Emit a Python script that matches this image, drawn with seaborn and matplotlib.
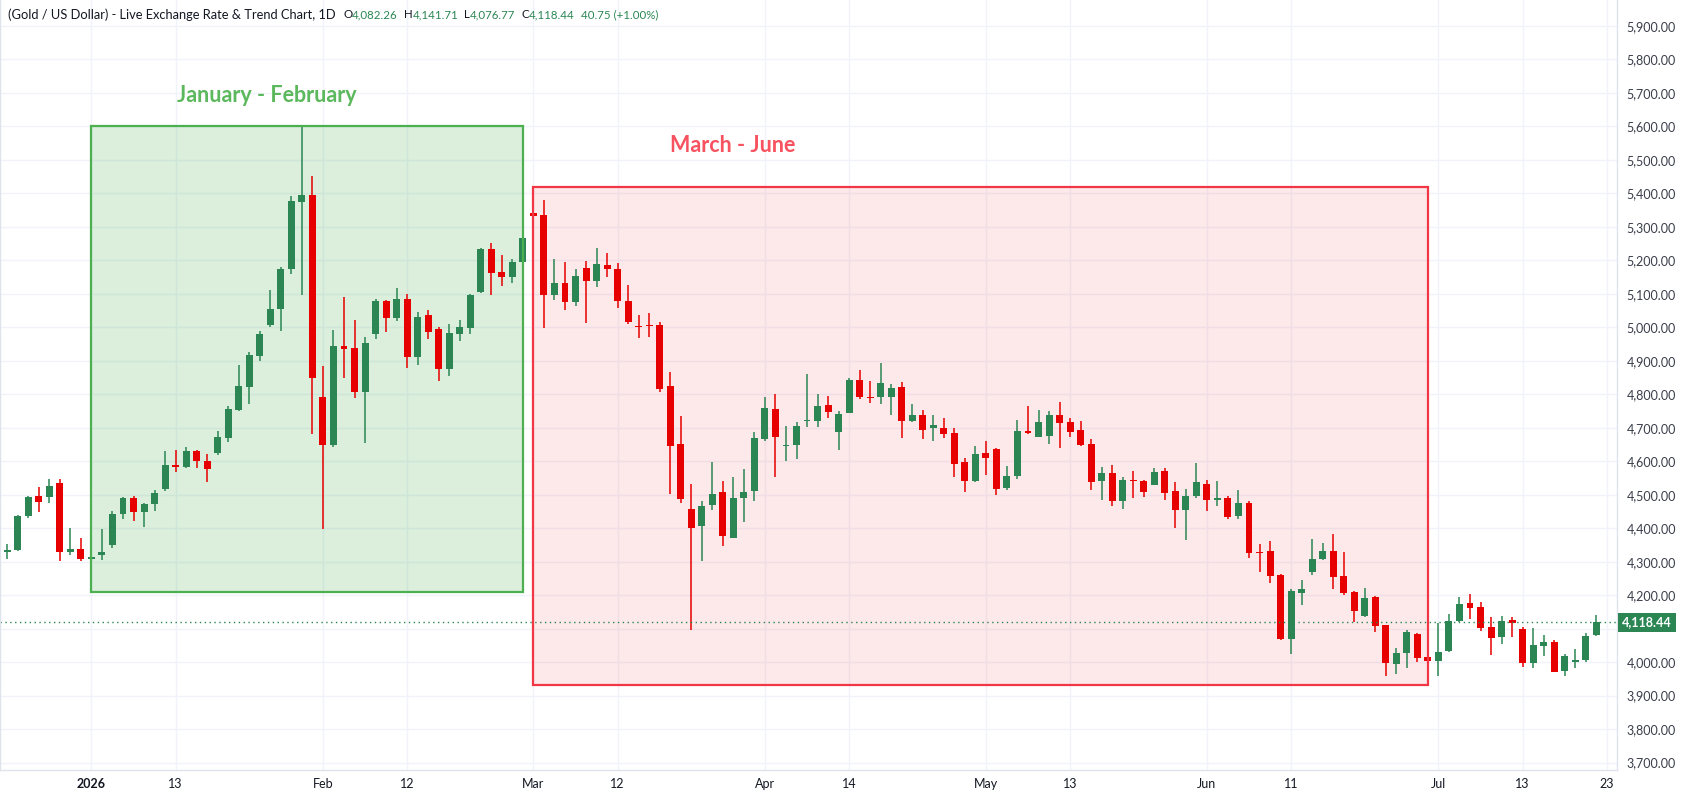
import matplotlib
matplotlib.use("Agg")
import matplotlib.pyplot as plt
import matplotlib.patches as patches
import matplotlib.transforms as mtransforms
import pandas as pd
import seaborn as sns

# daily OHLC (22 Dec 2025 .. 22 Jul 2026)
opens = [4330, 4336, 4435, 4497, 4492, 4536, 4330, 4338, 4309, 4321,
         4350, 4441, 4491, 4447, 4471, 4516, 4590, 4582, 4629, 4602,
         4624, 4669, 4753, 4822, 4915, 5008, 5054, 5175, 5374, 5394,
         4791, 4648, 4944, 4938, 4807, 4981, 5079, 5029, 5085, 4912,
         5037, 4995, 4876, 4981, 4999, 5104, 5235, 5166, 5149, 5194,
         5342, 5334, 5095, 5133, 5074, 5178, 5137, 5187, 5175, 5079,
         5005, 5008, 5007, 4824, 4650, 4458, 4408, 4468, 4509, 4372,
         4489, 4510, 4666, 4755, 4645, 4647, 4719, 4719, 4769, 4686,
         4743, 4841, 4790, 4791, 4791, 4823, 4719, 4739, 4698, 4700,
         4685, 4598, 4542, 4625, 4637, 4521, 4557, 4690, 4672, 4675,
         4737, 4716, 4692, 4650, 4540, 4566, 4480, 4545, 4542, 4528,
         4572, 4512, 4453, 4495, 4533, 4483, 4491, 4435, 4476, 4329,
         4332, 4260, 4069, 4207, 4270, 4308, 4332, 4257, 4209, 4138,
         4194, 4110, 3994, 4027, 4083, 4014, 4003, 4033, 4123, 4176,
         4164, 4104, 4075, 4125, 4098, 3997, 4048, 4059, 3973, 4000,
         4005, 4082.26]
highs = [4352, 4439, 4497, 4524, 4548, 4548, 4401, 4371, 4316, 4398,
         4452, 4494, 4497, 4476, 4515, 4629, 4632, 4641, 4632, 4620,
         4689, 4764, 4887, 4926, 4989, 5112, 5181, 5391, 5600, 5451,
         4884, 4992, 5091, 5022, 4971, 5085, 5082, 5118, 5100, 5046,
         5052, 5001, 5010, 5022, 5099, 5238, 5250, 5217, 5205, 5267,
         5385, 5379, 5205, 5196, 5175, 5199, 5238, 5223, 5193, 5127,
         5037, 5043, 5016, 4866, 4734, 4533, 4482, 4599, 4542, 4554,
         4578, 4686, 4791, 4800, 4704, 4716, 4859, 4802, 4796, 4751,
         4847, 4871, 4838, 4892, 4829, 4835, 4772, 4754, 4739, 4730,
         4700, 4610, 4646, 4661, 4639, 4586, 4724, 4766, 4752, 4749,
         4776, 4728, 4719, 4665, 4584, 4590, 4554, 4572, 4545, 4581,
         4581, 4539, 4518, 4596, 4545, 4542, 4497, 4515, 4482, 4353,
         4362, 4262, 4218, 4245, 4368, 4356, 4383, 4329, 4212, 4221,
         4197, 4112, 4041, 4095, 4086, 4062, 4116, 4143, 4194, 4203,
         4179, 4134, 4137, 4134, 4104, 4101, 4080, 4065, 4023, 4038,
         4086, 4141.71]
lows = [4307, 4333, 4429, 4447, 4474, 4302, 4321, 4302, 4305, 4306,
        4342, 4426, 4420, 4405, 4450, 4510, 4567, 4580, 4579, 4537,
        4618, 4657, 4751, 4771, 4900, 5002, 4990, 5158, 5097, 4681,
        4399, 4642, 4849, 4789, 4654, 4966, 4987, 5020, 4879, 4888,
        4966, 4840, 4855, 4960, 4981, 5101, 5095, 5122, 5131, 5167,
        5262, 4999, 5082, 5050, 5062, 5014, 5119, 5149, 5056, 5011,
        4969, 4972, 4807, 4501, 4474, 4096, 4303, 4453, 4348, 4372,
        4417, 4480, 4660, 4552, 4600, 4606, 4701, 4701, 4730, 4632,
        4743, 4787, 4773, 4770, 4737, 4668, 4716, 4665, 4659, 4668,
        4554, 4509, 4539, 4560, 4500, 4515, 4548, 4681, 4671, 4651,
        4639, 4672, 4645, 4513, 4483, 4465, 4456, 4489, 4492, 4528,
        4483, 4402, 4366, 4489, 4450, 4465, 4426, 4426, 4312, 4270,
        4237, 4066, 4024, 4171, 4261, 4306, 4219, 4201, 4120, 4135,
        4090, 3958, 3964, 3982, 4000, 3990, 3958, 4030, 4120, 4129,
        4093, 4021, 4054, 4075, 3985, 3982, 4018, 3970, 3958, 3982,
        4000, 4076.77]
closes = [4334, 4437, 4494, 4477, 4527, 4330, 4338, 4309, 4314, 4328,
          4443, 4491, 4447, 4473, 4506, 4590, 4582, 4629, 4600, 4576,
          4671, 4755, 4824, 4917, 4980, 5055, 5175, 5376, 5394, 4849,
          4648, 4944, 4936, 4807, 4953, 5079, 5029, 5085, 4912, 5031,
          4987, 4876, 4983, 5001, 5097, 5235, 5161, 5149, 5196, 5265,
          5331, 5095, 5133, 5074, 5154, 5137, 5190, 5175, 5077, 5017,
          5002, 5005, 4816, 4645, 4486, 4402, 4467, 4503, 4378, 4491,
          4509, 4668, 4758, 4672, 4647, 4704, 4721, 4766, 4746, 4742,
          4841, 4791, 4788, 4832, 4820, 4719, 4739, 4692, 4709, 4680,
          4593, 4542, 4622, 4611, 4518, 4556, 4691, 4683, 4716, 4737,
          4714, 4687, 4648, 4537, 4566, 4480, 4545, 4540, 4507, 4569,
          4504, 4453, 4497, 4539, 4483, 4491, 4432, 4476, 4327, 4327,
          4258, 4069, 4212, 4218, 4308, 4332, 4255, 4207, 4153, 4191,
          4108, 3997, 4026, 4089, 4012, 4003, 4029, 4122, 4173, 4162,
          4102, 4072, 4122, 4117, 3997, 4050, 4059, 3972, 4017, 4005,
          4077, 4118.44]

# trading days (Good Friday has no bar)
dates = pd.bdate_range("2025-12-22", "2026-07-22").drop(pd.Timestamp("2026-04-03"))

tick_dates = ["2026-01-01", "2026-01-13", "2026-02-02", "2026-02-12", "2026-03-02",
              "2026-03-12", "2026-04-01", "2026-04-14", "2026-05-01", "2026-05-13",
              "2026-06-01", "2026-06-11", "2026-07-01", "2026-07-13", "2026-07-23"]
tick_labels = ["2026", "13", "Feb", "12", "Mar", "12", "Apr", "14", "May", "13",
               "Jun", "11", "Jul", "13", "23"]
price_ticks = list(range(3700, 6000, 100))

# highlighted periods: (first day, last day, low, high, label)
periods = [("2026-01-01", "2026-02-27", 4210, 5600, "January - February"),
           ("2026-03-02", "2026-06-30", 3932, 5420, "March - June")]

UP = "#2b8653"
DOWN = "#e60000"
DARK = "#131722"

df = pd.DataFrame({"date": dates, "open": opens, "high": highs,
                   "low": lows, "close": closes})
df["x"] = range(len(df))
df["up"] = df["close"] >= df["open"]
df["color"] = df["up"].map({True: UP, False: DOWN})
df["body_lo"] = df[["open", "close"]].min(axis=1)
df["body_h"] = (df["close"] - df["open"]).abs().clip(lower=3)


def day_pos(d):
    d = pd.Timestamp(d)
    if d in dates:
        return dates.get_loc(d)
    return len(dates)


sns.set_theme(style="white")
plt.rcParams["font.family"] = ["Lato", "DejaVu Sans"]

W, H = 1682, 797
fig = plt.figure(figsize=(W / 100, H / 100), dpi=100)
ax = fig.add_axes([0, 27 / H, 1617 / W, 1 - 27 / H])

ax.set_xlim(-0.69, 152.97)
ax.set_ylim(3678, 5977)

# grid
for p in price_ticks:
    ax.axhline(p, color="#f0f3fa", lw=1, zorder=0)
xt = [day_pos(d) for d in tick_dates]
for x in xt:
    ax.axvline(x, color="#f0f3fa", lw=1, zorder=0)

# shaded periods
styles = [("#4caf50", 0.2), ("#f23645", 0.11)]
for (d0, d1, lo, hi, label), (col, a) in zip(periods, styles):
    x0, x1 = day_pos(d0), day_pos(d1)
    if label.startswith("March"):
        x0 -= 0.07
    ax.add_patch(patches.Rectangle((x0, lo), x1 - x0, hi - lo, facecolor=col,
                                   alpha=a, edgecolor="none", zorder=1))
    ax.add_patch(patches.Rectangle((x0, lo), x1 - x0, hi - lo, facecolor="none",
                                   edgecolor=col, lw=1.6, zorder=3))

ax.text(24.7, 5692, periods[0][4], color="#5cb85c", fontsize=15.5,
        fontweight="bold", ha="center", va="center", zorder=4)
ax.text(68.9, 5544, periods[1][4], color="#f7525f", fontsize=15.5,
        fontweight="bold", ha="center", va="center", zorder=4)

# candles
ax.vlines(df["x"], df["low"], df["high"], colors=df["color"], lw=1.1, zorder=2)
ax.bar(df["x"], df["body_h"], bottom=df["body_lo"], width=0.66,
       color=df["color"], linewidth=0, zorder=2)

# last price line + tag
last = closes[-1]
ax.axhline(last, color=UP, lw=1, linestyle=(0, (1, 2.5)), zorder=2)
tag = mtransforms.blended_transform_factory(ax.transAxes, ax.transData)
ax.text(1.0 + 5 / 1617, last, f"{last:,.2f}", transform=tag, color="white",
        fontsize=9, fontweight="bold", ha="left", va="center", clip_on=False,
        bbox=dict(boxstyle="square,pad=0.3", facecolor=UP, edgecolor="none"))

# axes
ax.set_xticks(xt)
ax.set_xticklabels(tick_labels)
ax.get_xticklabels()[0].set_fontweight("bold")
ax.yaxis.tick_right()
ax.set_yticks(price_ticks)
# the price tag hides the label next to it
ax.set_yticklabels(["" if abs(p - last) < 40 else f"{p:,.2f}" for p in price_ticks])
ax.tick_params(axis="x", length=0, pad=6, labelsize=9, labelcolor=DARK)
ax.tick_params(axis="y", length=0, pad=7, labelsize=9, labelcolor="#3a3e4a")
ax.spines["top"].set_visible(False)
for s in ["left", "right", "bottom"]:
    ax.spines[s].set_color("#e0e3eb")
    ax.spines[s].set_linewidth(1)

# header line
fs = 8.3
parts = [("(Gold / US Dollar) - Live Exchange Rate & Trend Chart, 1D", DARK, 9.3, 8),
         ("O", DARK, fs, 0), ("4,082.26", UP, fs, 6), ("H", DARK, fs, 0),
         ("4,141.71", UP, fs, 6), ("L", DARK, fs, 0), ("4,076.77", UP, fs, 6),
         ("C", DARK, fs, 0), ("4,118.44", UP, fs, 6), ("40.75 (+1.00%)", UP, fs, 0)]
fig.canvas.draw()
r = fig.canvas.get_renderer()
xpix = 7.5
for txt, col, size, gap in parts:
    t = fig.text(xpix / W, 1 - 15 / H, txt, color=col, fontsize=size, ha="left", va="center")
    bb = t.get_window_extent(renderer=r)
    xpix = bb.x1 + gap

fig.savefig("out.png", dpi=100, facecolor="white")
